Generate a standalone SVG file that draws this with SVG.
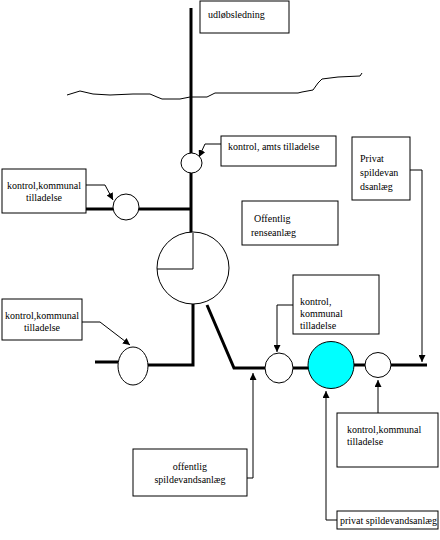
<svg xmlns="http://www.w3.org/2000/svg" width="440" height="540" viewBox="0 0 440 540">
<defs>
<style>
text{font-family:"Liberation Serif","Times New Roman",serif;font-size:10px;fill:#000}
.box{fill:#fff;stroke:#000;stroke-width:1}
.thick{fill:none;stroke:#000;stroke-width:3}
.thin{fill:none;stroke:#000;stroke-width:1}
.node{fill:#fff;stroke:#000;stroke-width:1}
.arr{fill:none;stroke:#000;stroke-width:1;marker-end:url(#ah)}
</style>
<marker id="ah" viewBox="0 0 10 10" refX="10" refY="5" markerWidth="7" markerHeight="7" markerUnits="userSpaceOnUse" orient="auto">
<path d="M0,0 L10,5 L0,10 z" fill="#000"/>
</marker>
</defs>
<rect width="440" height="540" fill="#fff"/>
<g id="connectors">
<path class="thick" d="M191,8 V153"/>
<path class="thick" d="M191,173 V233"/>
<path class="thin" d="M67,95 L80,91 L93,94 L110,95 L133,94 L150,94 L157,97 L162,99 L180,99 L190,97 L207,97 L215,93 L298,93 L302,92 L313,90 L318,83 L322,79 L338,77 L360,76 L362,73"/>
<path class="thick" d="M86,209 H113"/>
<path class="thick" d="M139,209 H191"/>
<path class="thick" d="M193,304 V365 H148"/>
<path class="thick" d="M95,362 H118"/>
<path class="thick" d="M207,305 L234,368 H265"/>
<path class="thick" d="M293,368 H309"/>
<path class="thick" d="M354,365 H365"/>
<path class="thick" d="M391,365 H427"/>
<path class="arr" d="M221,144 H205 L199,157"/>
<path class="arr" d="M86,185 H105 L113,200"/>
<path class="arr" d="M82,322 H100 L130,345"/>
<path class="arr" d="M293,305 H277 V352"/>
<path class="arr" d="M410,170 H422 V362"/>
<path class="arr" d="M247,478 H253 V373"/>
<path class="arr" d="M337,520 H326 V391"/>
<path class="arr" d="M378,413 V380"/>
</g>
<g id="udlob">
<rect class="box" x="200" y="1" width="89" height="32"/>
<text x="208" y="18">udløbsledning</text>
</g>
<g id="amts-node"><ellipse class="node" cx="191.5" cy="163" rx="10.5" ry="10"/></g>
<g id="amts-box">
<rect class="box" x="221" y="136" width="115" height="30"/>
<text x="228" y="150">kontrol, amts tilladelse</text>
</g>
<g id="kk1-box">
<rect class="box" x="2" y="169" width="84" height="44"/>
<text x="44" y="189" text-anchor="middle">kontrol,kommunal</text>
<text x="44" y="201" text-anchor="middle">tilladelse</text>
</g>
<g id="kk1-node"><ellipse class="node" cx="126" cy="207" rx="13" ry="13"/></g>
<g id="offrens-box">
<rect class="box" x="242" y="201" width="96" height="44"/>
<text x="254" y="222">Offentlig</text>
<text x="251" y="236">renseanlæg</text>
</g>
<g id="privat-box">
<rect class="box" x="352" y="137" width="58" height="63"/>
<text x="360" y="162">Privat</text>
<text x="360" y="176">spildevan</text>
<text x="360" y="190">dsanlæg</text>
</g>
<g id="rens-node"><ellipse class="node" cx="193" cy="268" rx="36" ry="36"/>
<path class="thin" d="M193,233 V269 H157"/></g>
<g id="kk2-box">
<rect class="box" x="2" y="299" width="80" height="41"/>
<text x="42" y="319" text-anchor="middle">kontrol,kommunal</text>
<text x="42" y="331" text-anchor="middle">tilladelse</text>
</g>
<g id="kk2-node"><ellipse class="node" cx="133" cy="366" rx="15" ry="19"/></g>
<g id="kk3-box">
<rect class="box" x="293" y="275" width="86" height="59"/>
<text x="300" y="305">kontrol,</text>
<text x="300" y="317">kommunal</text>
<text x="300" y="329">tilladelse</text>
</g>
<g id="kk3-node"><ellipse class="node" cx="279" cy="368" rx="14" ry="15"/></g>
<g id="cyan-node"><ellipse cx="331" cy="365" rx="23" ry="23.5" fill="#00ffff" stroke="#000" stroke-width="1"/></g>
<g id="kk4-node"><ellipse class="node" cx="378" cy="365" rx="13" ry="12.5"/></g>
<g id="kk4-box">
<rect class="box" x="337" y="413" width="101" height="54"/>
<text x="347" y="433">kontrol,kommunal</text>
<text x="347" y="445">tilladelse</text>
</g>
<g id="offspild-box">
<rect class="box" x="133" y="449" width="114" height="47"/>
<text x="190" y="470" text-anchor="middle">offentlig</text>
<text x="190" y="483" text-anchor="middle">spildevandsanlæg</text>
</g>
<g id="privspild-box">
<rect class="box" x="337" y="511" width="101" height="18"/>
<text x="340" y="524">privat spildevandsanlæg</text>
</g>
</svg>
